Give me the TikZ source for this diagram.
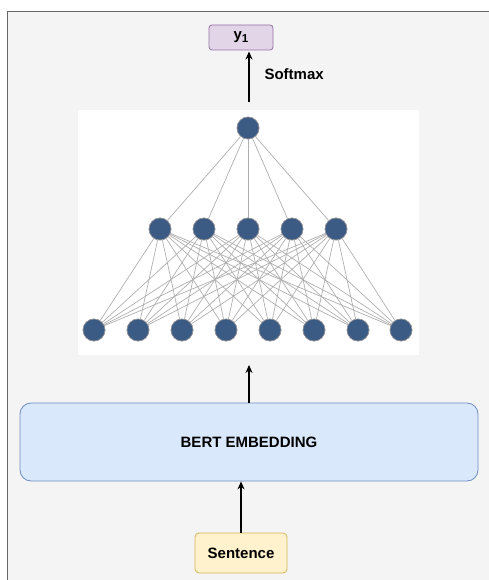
\documentclass[tikz,border=0pt]{standalone}
\usepackage{fontspec}
\setmainfont{Liberation Sans}
\usetikzlibrary{arrows.meta}
\definecolor{bgc}{HTML}{F4F4F4}
\definecolor{framec}{HTML}{666666}
\definecolor{neuronc}{HTML}{3B5A84}
\definecolor{edgec}{HTML}{B0B0B0}
\definecolor{purpf}{HTML}{E1D5E7}
\definecolor{purpd}{HTML}{9673A6}
\definecolor{bluef}{HTML}{DAE8FC}
\definecolor{blued}{HTML}{6C8EBF}
\definecolor{yelf}{HTML}{FFF2CC}
\definecolor{yeld}{HTML}{D6B656}
\tikzset{
  neuron/.style={circle,fill=neuronc,draw=gray!80,line width=0.6pt,minimum size=22pt,inner sep=0pt},
  nnedge/.style={edgec,line width=0.7pt},
  flow/.style={-{Stealth[length=8pt,width=7pt]},line width=1.1pt,black},
  lbl/.style={font=\fontsize{15}{17}\selectfont\bfseries},
}
\begin{document}
\begin{tikzpicture}[x=1pt,y=-1pt]
\useasboundingbox (0,0) rectangle (489,580);
\fill[white] (0,0) rectangle (489,580);
\filldraw[fill=bgc,draw=framec,line width=1.3pt] (7.5,11.5) rectangle (500,600);
% white panel
\node[fill=white,minimum width=341pt,minimum height=245pt,inner sep=0pt] (panel) at (248.5,232.5) {};
% output
\node[lbl,fill=purpf,draw=purpd,line width=0.8pt,rounded corners=3pt,minimum width=64pt,minimum height=25pt,inner sep=0pt] (y1) at (241,37.5) {y\raisebox{-0.35ex}{\fontsize{11.5}{12}\selectfont 1}};
\coordinate (outtail) at (249,102);
\coordinate (yin) at (249,51.5);
\draw[flow] (outtail) -- (yin);
\node[lbl,anchor=west] (softmax) at (261,74) {Softmax};
% network
\node[neuron] (t) at (248,128) {};
\foreach \i/\x in {1/160,2/204,3/248,4/292,5/336}{
  \node[neuron] (m\i) at (\x,229) {};
}
\foreach \i/\x in {1/94,2/138,3/182,4/226,5/270,6/314,7/358,8/401}{
  \node[neuron] (b\i) at (\x,330) {};
}
\foreach \i in {1,...,5}{
  \draw[nnedge] (t) -- (m\i);
  \foreach \j in {1,...,8}{
    \draw[nnedge] (m\i) -- (b\j);
  }
}
% redraw neurons on top
\node[neuron] at (t) {};
\foreach \i in {1,...,5}{
  \node[neuron] at (m\i) {};
}
\foreach \j in {1,...,8}{
  \node[neuron] at (b\j) {};
}
% BERT
\node[lbl,fill=bluef,draw=blued,line width=0.8pt,rounded corners=11pt,minimum width=458pt,minimum height=78pt,inner sep=0pt] (bert) at (249,442) {BERT EMBEDDING};
\coordinate (netin) at (249,365);
\draw[flow] (bert.north -| netin) -- (netin);
% Sentence
\node[lbl,fill=yelf,draw=yeld,line width=0.8pt,rounded corners=4pt,minimum width=92pt,minimum height=40pt,inner sep=0pt] (sent) at (241,553) {Sentence};
\draw[flow] (sent.north) -- (bert.south -| sent.north);
\end{tikzpicture}
\end{document}
